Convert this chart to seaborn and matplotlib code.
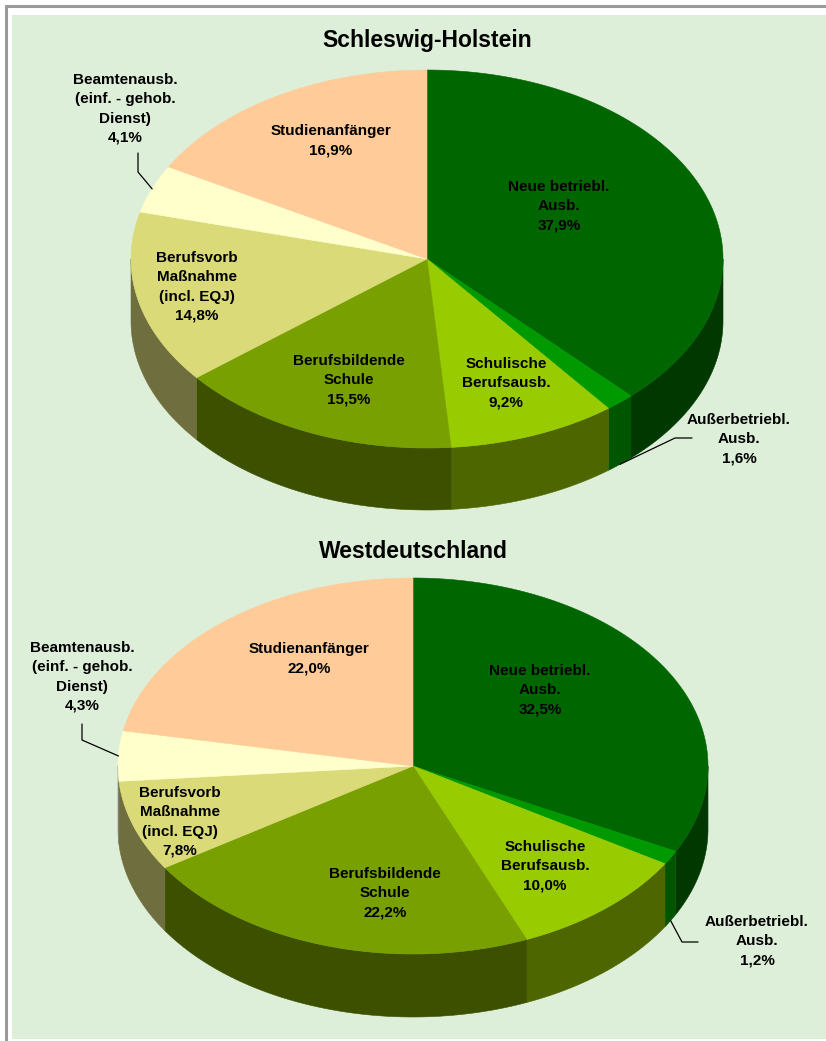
import numpy as np
import matplotlib
matplotlib.use("Agg")
import matplotlib.pyplot as plt
import seaborn as sns
from matplotlib.patches import Polygon, Rectangle
from matplotlib.lines import Line2D

# ---------------- data ----------------
categories = [
    "Neue betriebl.\nAusb.",
    "Außerbetriebl.\nAusb.",
    "Schulische\nBerufsausb.",
    "Berufsbildende\nSchule",
    "Berufsvorb\nMaßnahme\n(incl. EQJ)",
    "Beamtenausb.\n(einf. - gehob.\nDienst)",
    "Studienanfänger",
]
sh_values = [37.9, 1.6, 9.2, 15.5, 14.8, 4.1, 16.9]
wd_values = [32.5, 1.2, 10.0, 22.2, 7.8, 4.3, 22.0]
titles = ["Schleswig-Holstein", "Westdeutschland"]

top_colors = ["#006600", "#009900", "#99CC00", "#78A000", "#DADB78", "#FFFFCC", "#FFCC99"]
side_colors = ["#003800", "#005500", "#4E6600", "#3C5000", "#6E6E3E", "#80806A", "#806650"]

# ---------------- style ----------------
sns.set_theme(style="white")
plt.rcParams["font.family"] = ["Liberation Sans", "DejaVu Sans"]

W, H = 826, 1041
fig = plt.figure(figsize=(W / 100, H / 100), dpi=100)
fig.patch.set_facecolor("white")
ax = fig.add_axes([0, 0, 1, 1])
ax.set_xlim(0, W)
ax.set_ylim(H, 0)
ax.axis("off")

# frame and panel
ax.add_patch(Rectangle((12, 15), W - 12, 1024, facecolor="#DEEFD9", edgecolor="none", zorder=0))
ax.add_line(Line2D([6, W], [6, 6], color="#9A9A9A", lw=2.2, zorder=1))
ax.add_line(Line2D([6, 6], [6, H], color="#9A9A9A", lw=2.2, zorder=1))

# layout per pie: centre, semi-axes, depth, title y, label positions, leader knees
layouts = [
    dict(cx=427, cy=259, a=296, b=189, depth=62, title_y=41,
         labels=[(559, 206), (739, 439), (506, 383), (349, 380), (197, 287), (125, 109), (331, 141)],
         knees={1: [(692, 438), (675, 438)], 5: [(138, 153), (138, 172)]}),
    dict(cx=413, cy=766, a=295, b=188, depth=63, title_y=552,
         labels=[(540, 690), (757, 941), (545, 866), (385, 893), (180, 822), (82, 677), (309, 659)],
         knees={1: [(698, 942), (682, 942)], 5: [(82, 724), (82, 740)]}),
]


def fmt(v):
    return f"{v:.1f}".replace(".", ",") + "%"


def draw_pie(values, title, L):
    cx, cy, a, b, d = L["cx"], L["cy"], L["a"], L["b"], L["depth"]
    vals = np.asarray(values, dtype=float)
    bounds = np.concatenate([[0], np.cumsum(vals) / vals.sum() * 360.0])

    def pt(theta_deg, dy=0.0):
        t = np.radians(theta_deg)
        return cx + a * np.sin(t), cy - b * np.cos(t) + dy

    # side walls (front half only)
    for i in range(len(vals)):
        lo, hi = max(bounds[i], 90.0), min(bounds[i + 1], 270.0)
        if lo < hi:
            th = np.linspace(lo, hi, 80)
            xs, ys = pt(th)
            poly = np.vstack([np.column_stack([xs, ys]),
                              np.column_stack([xs[::-1], ys[::-1] + d])])
            ax.add_patch(Polygon(poly, closed=True, facecolor=side_colors[i],
                                 edgecolor=side_colors[i], lw=0.4, zorder=2))
    # top faces
    for i in range(len(vals)):
        th = np.linspace(bounds[i], bounds[i + 1], 120)
        xs, ys = pt(th)
        poly = np.vstack([[cx, cy], np.column_stack([xs, ys])])
        ax.add_patch(Polygon(poly, closed=True, facecolor=top_colors[i],
                             edgecolor=top_colors[i], lw=0.4, zorder=3))

    ax.text(cx, L["title_y"], title, ha="center", va="center",
            fontsize=16.5, fontweight="bold", color="black", zorder=5)

    for i, (lab, v) in enumerate(zip(categories, vals)):
        x, y = L["labels"][i]
        ax.text(x, y, lab + "\n" + fmt(v), ha="center", va="center",
                fontsize=11, fontweight="bold", color="black",
                linespacing=1.48, zorder=5)
        if i in L["knees"]:
            mid = (bounds[i] + bounds[i + 1]) / 2
            front = np.cos(np.radians(mid)) < 0
            ax_, ay_ = pt(mid, d if front else 0.0)
            kx = [p[0] for p in L["knees"][i]] + [ax_]
            ky = [p[1] for p in L["knees"][i]] + [ay_]
            ax.add_line(Line2D(kx, ky, color="black", lw=0.9, zorder=4))


for vals, title, L in zip([sh_values, wd_values], titles, layouts):
    draw_pie(vals, title, L)

fig.savefig("out.png", dpi=100, facecolor="white")
